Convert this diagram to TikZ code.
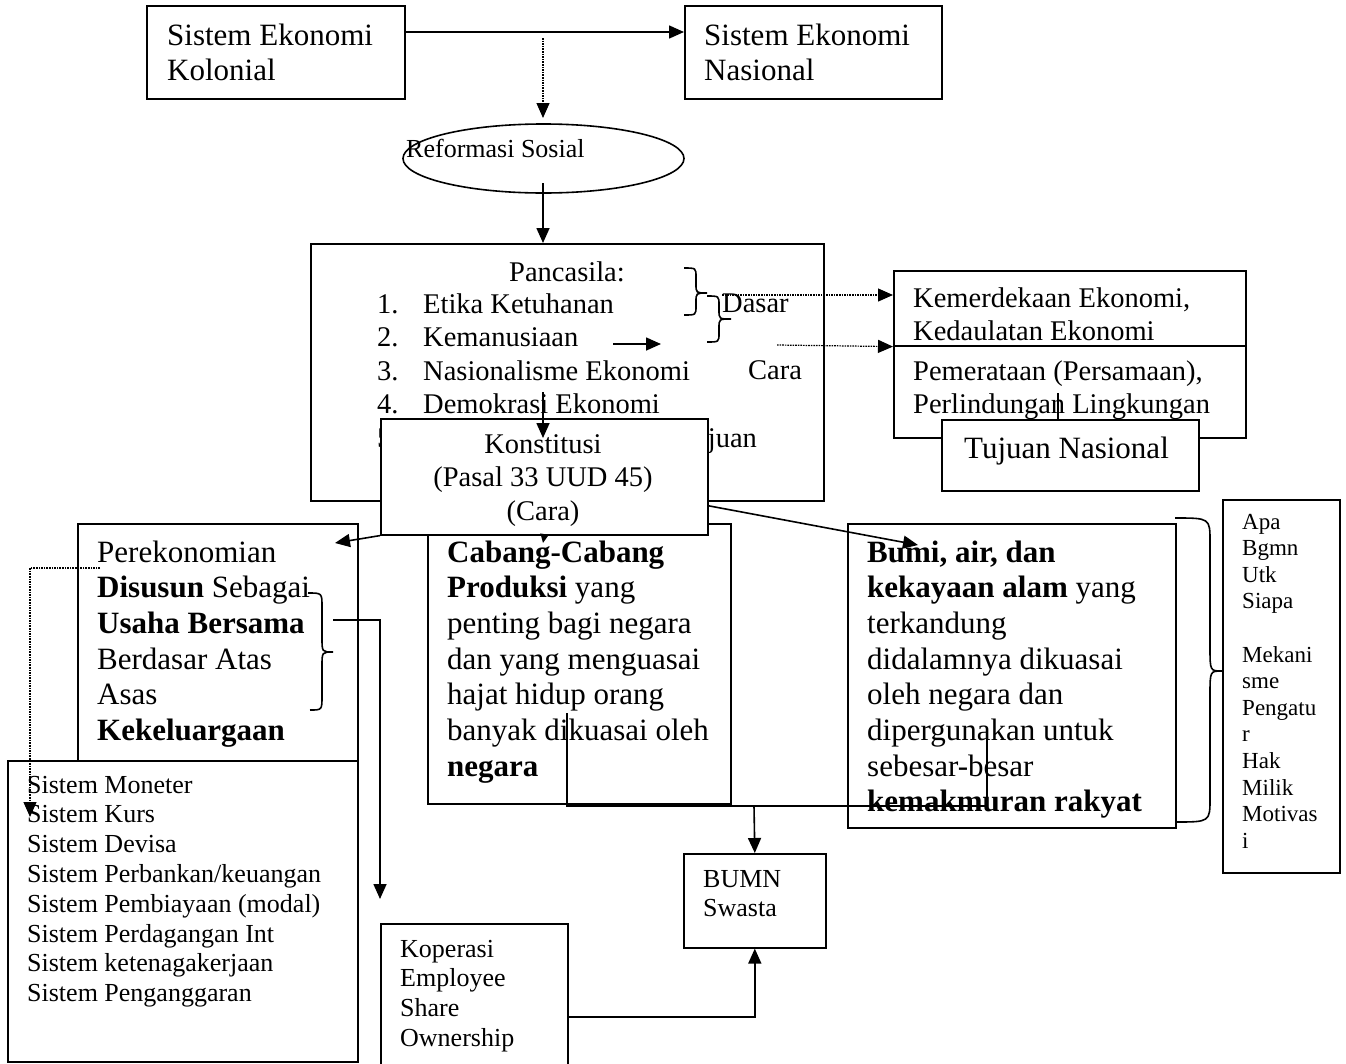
\documentclass[tikz,border=0pt]{standalone}
\usepackage{fontspec}
\setmainfont{Liberation Serif}
\usetikzlibrary{arrows.meta,shapes.geometric}
\newcommand{\rows}[1]{\begin{tabular}[t]{@{}l@{}}#1\end{tabular}}

\begin{document}
\begin{tikzpicture}[x=1pt,y=-1pt]
    \tikzset{box/.style = {draw,line width=1.6pt,fill=white,anchor=north west,inner sep=0pt}}
    \tikzset{txt/.style = {anchor=base west,inner sep=0pt}}
    \tikzset{arr/.style = {-{Triangle[length=15pt,width=13pt]},line width=1.6pt}}
    \tikzset{dotarr/.style = {arr,densely dotted,line width=1.2pt}}
    \tikzset{link/.style = {line width=1.6pt}}
    \tikzset{fa/.style = {font=\fontsize{31}{35.7}\selectfont}}
    \tikzset{fb/.style = {font=\fontsize{28.5}{33.5}\selectfont}}
    \tikzset{fc/.style = {font=\fontsize{26}{29.8}\selectfont}}
    \tikzset{fd/.style = {font=\fontsize{23}{26.6}\selectfont}}
    \useasboundingbox (0,0) rectangle (1346,1063);

    % top row
    \node[box,minimum width=258pt,minimum height=93pt] (kol) at (146,5) {};
    \node[txt,fa] (kolt) at (167,45) {\rows{Sistem Ekonomi\\Kolonial}};
    \node[box,minimum width=257pt,minimum height=93pt] (nas) at (684,5) {};
    \node[txt,fa] (nast) at (704,45) {\rows{Sistem Ekonomi\\Nasional}};
    \coordinate (kn) at (404,32);
    \draw[arr] (kn) -- (kn -| nas.west);

    % reformasi
    \node[draw,ellipse,line width=1.6pt,minimum width=281pt,minimum height=69pt,inner sep=0pt] (refo) at (543.5,158.5) {};
    \node[txt,fc] (refot) at (406,157) {Reformasi Sosial};
    \coordinate (ds) at (543,38);
    \draw[dotarr] (ds) -- (543,118);
    \coordinate (rs) at (543,183);

    % pancasila
    \node[box,minimum width=513pt,minimum height=257pt] (panc) at (310,243) {};
    \draw[arr] (rs) -- (rs |- panc.north);
    \node[anchor=base,inner sep=0pt,fb] (pant) at (567,281) {Pancasila:};
    \node[txt,fb] (panl) at (377,313) {\begin{tabular}[t]{@{}p{46pt}@{}l@{}}
        1. & Etika Ketuhanan\\
        2. & Kemanusiaan\\
        3. & Nasionalisme Ekonomi\\
        4. & Demokrasi Ekonomi\\
        5. & \end{tabular}};
    \node[txt,fb] (dasar) at (722,312) {Dasar};
    \node[txt,fb] (cara) at (748,379) {Cara};
    \node[txt,fb] (tuj) at (677,447) {Tujuan};
    \coordinate (kema) at (613,344);
    \coordinate (kemb) at (661,344);
    \draw[arr] (kema) -- (kemb);
    % braces
    \draw[link] (684,268) .. controls (696,268) .. (696,277) -- (696,284) .. controls (696,293) .. (707,293)
        .. controls (696,293) .. (696,302) -- (696,306) .. controls (696,315) .. (684,315);
    \draw[link] (707,296) .. controls (719,296) .. (719,305) -- (719,310) .. controls (719,319) .. (731,319)
        .. controls (719,319) .. (719,328) -- (719,333) .. controls (719,342) .. (707,342);

    % tujuan nasional
    \node[box,minimum width=352pt,minimum height=75pt] (kem1) at (893,270) {};
    \node[box,minimum width=352pt,minimum height=92pt] (kem2) at (893,345) {};
    \node[txt,fb] (kem1t) at (913,307) {\rows{Kemerdekaan Ekonomi,\\Kedaulatan Ekonomi}};
    \node[txt,fb] (kem2t) at (913,380) {\rows{Pemerataan (Persamaan),\\Perlindungan Lingkungan}};
    \coordinate (dasar1) at (722,295);
    \coordinate (dasar2) at (777,345);
    \draw[dotarr] (dasar1) -- (dasar1 -| kem1.west);
    \draw[dotarr] (dasar2) -- (kem1.south west);
    \coordinate (tjl) at (1058,393);
    \node[box,minimum width=257pt,minimum height=71pt] (tujuan) at (941,419) {};
    \draw[link] (tjl) -- (tjl |- tujuan.north);
    \node[txt,fa] (tujuant) at (964,458) {Tujuan Nasional};

    % pasal 33
    \node[box,minimum width=280pt,minimum height=237pt] (perek) at (77,523) {};
    \node[txt,fa] (perekt) at (97,562) {\rows{Perekonomian\\\textbf{Disusun} Sebagai\\\textbf{Usaha Bersama}\\Berdasar Atas\\Asas\\\textbf{Kekeluargaan}}};
    \node[box,minimum width=303pt,minimum height=280pt] (cabang) at (427,523) {};
    \node[txt,fa] (cabangt) at (447,562) {\rows{\textbf{Cabang-Cabang}\\\textbf{Produksi} yang\\penting bagi negara\\dan yang menguasai\\hajat hidup orang\\banyak dikuasai oleh\\\textbf{negara}}};
    \node[box,minimum width=328pt,minimum height=304pt] (bumi) at (847,523) {};
    \node[txt,fa] (bumit) at (867,562) {\rows{\textbf{Bumi, air, dan}\\\textbf{kekayaan alam} yang\\terkandung\\didalamnya dikuasai\\oleh negara dan\\dipergunakan untuk\\sebesar-besar\\\textbf{kemakmuran rakyat}}};
    \node[box,minimum width=327pt,minimum height=116pt] (konst) at (380,418) {};
    \coordinate (cabin) at (543,543);
    \draw[-{Triangle[length=9pt,width=8pt]},line width=1.6pt] (konst.south) -- (cabin);
    \node[anchor=base,inner sep=0pt,fb] (konstt) at (543,453) {\begin{tabular}[t]{@{}c@{}}Konstitusi\\(Pasal 33 UUD 45)\\(Cara)\end{tabular}};
    \coordinate (demo) at (543,392);
    \coordinate (konstin) at (543,438);
    \draw[arr] (demo) -- (konstin);
    \coordinate (perekin) at (335,543);
    \coordinate (bumiin) at (918,545);
    \draw[arr] (konst.south west) -- (perekin);
    \draw[arr] ([yshift=-29pt]konst.east) -- (bumiin);
    \draw[link] (308,593) .. controls (322,593) .. (322,607) -- (322,638) .. controls (322,652) .. (333,652)
        .. controls (322,652) .. (322,666) -- (322,696) .. controls (322,710) .. (310,710);

    % apa, bagaimana, untuk siapa
    \draw[link] (1175,518) .. controls (1210,518) .. (1210,542) -- (1210,647) .. controls (1210,671) .. (1222,671)
        .. controls (1210,671) .. (1210,695) -- (1210,798) .. controls (1210,822) .. (1175,822);
    \node[box,minimum width=117pt,minimum height=373pt] (apa) at (1222,499) {};
    \node[txt,fd] (apat) at (1242,529) {\rows{Apa\\Bgmn\\Utk\\Siapa\\[26.6pt]Mekani\\sme\\Pengatu\\r\\Hak\\Milik\\Motivas\\i}};

    % sistem
    \node[box,minimum width=350pt,minimum height=301pt] (sistem) at (7,760) {};
    \node[txt,fc] (sistemt) at (27,793) {\rows{Sistem Moneter\\Sistem Kurs\\Sistem Devisa\\Sistem Perbankan/keuangan\\Sistem Pembiayaan (modal)\\Sistem Perdagangan Int\\Sistem ketenagakerjaan\\Sistem Penganggaran}};
    \coordinate (pd) at (100,568);
    \coordinate (sd) at (30,817);
    \draw[dotarr] (pd) -| (sd);
    \coordinate (us) at (333,620);
    \coordinate (usd) at (380,899);
    \draw[arr] (us) -| (usd);

    % pelaku
    \node[box,minimum width=187pt,minimum height=150pt] (kop) at (380,923) {};
    \node[txt,fc] (kopt) at (400,957) {\rows{Koperasi\\Employee\\Share\\Ownership}};
    \node[box,minimum width=142pt,minimum height=94pt] (bumn) at (683,853) {};
    \node[txt,fc] (bumnt) at (703,887) {\rows{BUMN\\Swasta}};
    \coordinate (cb) at (567,713);
    \coordinate (bb) at (987,738);
    \coordinate (jn) at (754,806);
    \draw[link] (cb) |- (jn) -| (bb);
    \draw[arr] (jn) -- (bumn.north);
    \coordinate (ko) at (567,1017);
    \draw[arr] (ko) -| (bumn.south);
\end{tikzpicture}
\end{document}
